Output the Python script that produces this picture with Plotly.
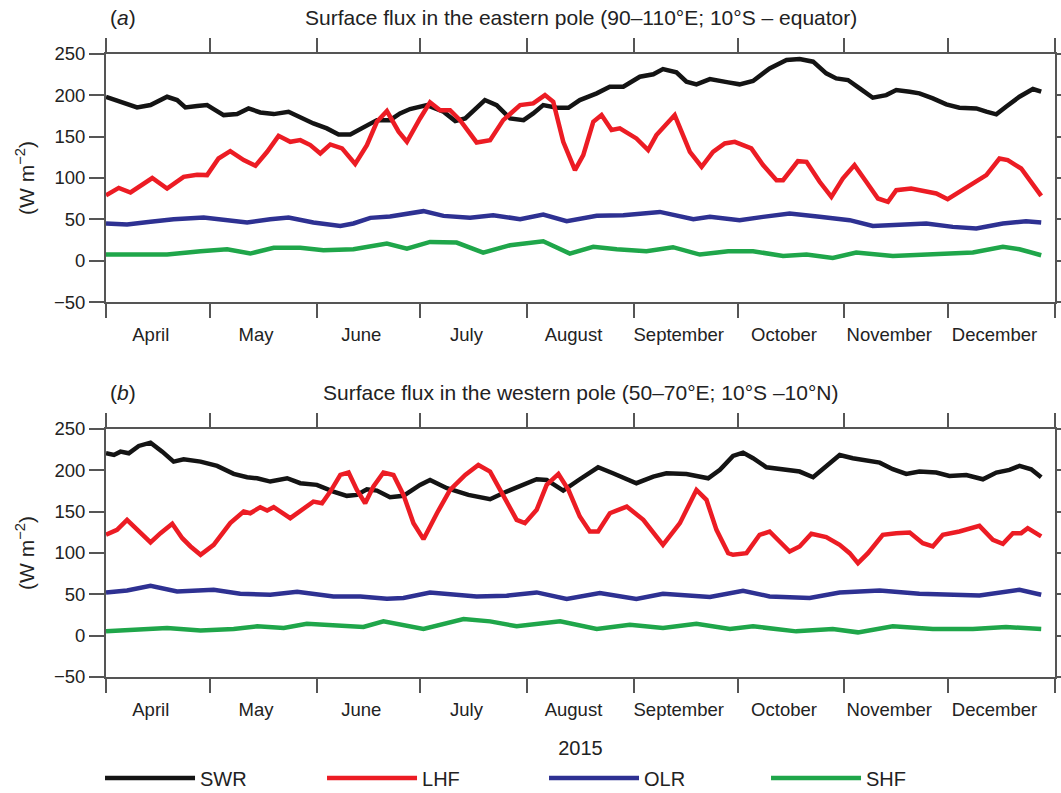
import pandas as pd
import plotly.graph_objects as go

START = "2015-04-01"
END = "2016-01-01"
Y_TICKS = [-50, 0, 50, 100, 150, 200, 250]
SERIES = ["SWR", "LHF", "OLR", "SHF"]

# ---------------- Panel (a): eastern pole (days since 1 April 2015) ----------------
swr_a_day = [0, 4.2, 9, 12.9, 17.7, 20.6, 23, 26.4, 29.3, 31.2,
             34.1, 38, 41.3, 44.7, 48.6, 52.9, 56.3, 60.1, 64, 67.4,
             70.8, 74.6, 78.5, 82.3, 85.2, 88.1, 93, 97.8, 101.2, 104.1,
             109.8, 113.2, 117.1, 121, 123.8, 126.7, 130.6, 134, 137.3, 142.2,
             146, 149.9, 154.7, 158.6, 161.4, 165.3, 168.2, 171.1, 175, 180.3,
             183.6, 187.5, 192.3, 197.2, 201, 204.9, 208.7, 211.6, 215, 218.4,
             222.2, 226.1, 229, 232.9, 235.7, 239.6, 243.5, 247.3, 252.2, 255.1,
             258, 260.8, 264.7, 268.6, 271]
swr_a_val = [198, 191.5, 185.4, 188.2, 198.3, 194.3, 185.4, 187, 188.2, 183.4,
             176.1, 177.3, 184.2, 179.3, 177.3, 180.2, 172.9, 166, 160, 152.7,
             152.7, 162, 170, 170, 178.1, 183.4, 188.2, 180.2, 168.9, 172.1,
             194.3, 188.2, 172.1, 170, 178.1, 188.2, 185, 185, 194.3, 202.4,
             210.4, 210.4, 222.5, 225.4, 231.8, 227.8, 216.5, 213.3, 219.7, 215.7,
             213.3, 217.3, 232.6, 242.7, 244, 240.7, 226.6, 220.5, 218.5, 208.4,
             197.1, 200.3, 206.4, 204.4, 202.4, 196.3, 189.1, 185, 184.2, 180.2,
             177, 186.2, 198.3, 207.6, 204.4]

lhf_a_day = [0, 3.7, 7.1, 13.4, 17.7, 22.5, 26.4, 29.3, 32.6, 36,
             39.9, 43.3, 46.7, 50, 53.4, 56.3, 59.2, 62.1, 65, 68.4,
             72.2, 75.6, 78.5, 81.4, 84.8, 87.2, 91, 93.9, 96.8, 99.7,
             102.6, 107.4, 111.3, 115.1, 120, 123.8, 127.2, 129.6, 132.5, 135.9,
             138.3, 141.2, 143.6, 146.5, 148.9, 153.7, 157.1, 159.5, 164.8, 169.2,
             172.6, 175.9, 179.3, 182.2, 187, 190.4, 194.3, 196.2, 200.5, 203,
             206.8, 210.2, 213.5, 216.9, 220.3, 223.7, 226.6, 229, 233.3, 237.7,
             240.6, 243.9, 247.3, 251.2, 255.1, 258.9, 261.3, 265.2, 268.1, 271]
lhf_a_val = [79, 88, 82.5, 100, 87.3, 101.4, 104, 103.5, 123.6, 132.5,
             121.6, 114.8, 131.7, 151, 143.8, 145.8, 139.8, 129.7, 140.6, 135.8,
             117, 139.8, 168, 181, 156, 143.8, 172, 191.5, 182, 182,
             170, 143, 145.8, 170, 188.2, 190.3, 200.3, 192.3, 143.8, 109.5,
             127.7, 168, 176.1, 158, 160, 147.9, 133.7, 151.9, 176.1, 131.7,
             113.6, 131.7, 141.8, 143.8, 135.8, 115.6, 97.4, 97.4, 120.4, 119.6,
             95.4, 77.2, 99.4, 115.6, 95.4, 75.2, 71.2, 85.3, 87.3, 83.3,
             81.3, 74.4, 83.3, 93.4, 103.5, 123.6, 121.6, 111.5, 95.4, 78.4]

olr_a_day = [0, 6.1, 12.9, 19.6, 28.3, 34.1, 40.9, 47.6, 52.9, 60.1,
             67.9, 71.7, 76.6, 82.3, 89.1, 92, 97.8, 105.5, 112.2, 120,
             126.7, 133.5, 142.2, 149.9, 160.5, 170.2, 175, 183.6, 190.4, 198.1,
             206.8, 215.5, 222.2, 231.9, 237.7, 245.4, 252.2, 259.9, 266.6, 271]
olr_a_val = [44.9, 43.7, 47, 50.2, 52.2, 49, 46.1, 50.2, 52.2, 46.1,
             42.1, 45, 51.8, 53.4, 58.2, 59.9, 54.2, 51.8, 55, 50.2,
             55.8, 47.7, 54.2, 55, 59, 50.2, 53, 49, 53, 57,
             53, 49, 42.1, 43.7, 45, 40.9, 38.9, 45, 47.7, 46.1]

shf_a_day = [0, 8, 17.7, 27.4, 35.1, 41.8, 48.6, 56.3, 63, 71.7,
             81.4, 87.2, 93.9, 101.6, 109.3, 117.1, 126.7, 134.4, 141.2, 148,
             156.6, 164.3, 172.1, 180.3, 187.5, 196.2, 203, 210.6, 217.4, 228,
             240.6, 251.2, 259.9, 264.7, 271]
shf_a_val = [7.4, 7.8, 7.4, 11.4, 13.8, 8.6, 15.5, 15.5, 12.6, 13.8,
             20.7, 14.6, 22.7, 21.9, 9.8, 18.7, 23.5, 8.6, 16.7, 13.8,
             11.4, 16.3, 7.4, 11.4, 11.4, 5.8, 7.4, 3.3, 9.8, 5.8,
             7.4, 9.8, 16.7, 13.8, 6.6]

# ---------------- Panel (b): western pole ----------------
swr_b_day = [0, 2.3, 4.2, 6.6, 9.5, 12.9, 16.3, 19.6, 22.5, 27.4,
             32.2, 37, 40.9, 43.8, 47.6, 52.5, 56.3, 61.1, 65.9, 69.8,
             72.7, 75.6, 78.5, 82.3, 86.2, 91, 93.9, 98.8, 105, 111.3,
             116.1, 121, 124.8, 127.7, 132.5, 137.3, 142.6, 146.9, 153.7, 158.6,
             162.4, 168.2, 174.5, 177.9, 181.7, 184.6, 187.5, 191.4, 197.2, 201,
             204.9, 208.7, 212.6, 216.4, 220.3, 224.2, 228, 231.9, 235.7, 240.6,
             244.4, 249.3, 254.1, 258, 261.8, 264.7, 268.1, 271]
swr_b_val = [220.6, 218.6, 222.6, 220.6, 229.5, 233.5, 222.6, 210.5, 213.4, 210.5,
             205.3, 195.7, 191.6, 190.4, 186.4, 190.4, 184.4, 182.4, 174.3, 169.1,
             170.3, 177.1, 175.5, 167.5, 169.1, 182.4, 188.4, 178.3, 170.3, 165.1,
             174.3, 182.4, 189.2, 188.4, 175.5, 189.2, 203.7, 196.5, 184.4, 192.4,
             196.5, 195.6, 190.4, 200.5, 217.4, 221.4, 214.6, 203.7, 201.3, 198.5,
             191.6, 204.5, 218.6, 214.6, 212.6, 209.3, 201.3, 195.6, 198.5, 197.3,
             193.2, 194.4, 189.2, 197.3, 200.5, 205.3, 201.3, 191.6]

lhf_b_day = [0, 3.2, 6.1, 10, 12.9, 15.8, 19.2, 22.1, 24.5, 27.4,
             31.2, 36, 39.9, 41.8, 44.7, 46.7, 48.6, 53.4, 56.8, 60.1,
             62.6, 65, 67.9, 70.3, 72.7, 75.1, 77.5, 80.4, 83.3, 86.2,
             89.1, 92, 95.9, 99.7, 104.1, 107.9, 111.3, 115.1, 119, 121.4,
             124.8, 127.7, 131.1, 134, 137.3, 140.2, 142.6, 146, 150.9, 155.7,
             161.4, 166.3, 171.1, 174, 176.9, 180.3, 181.7, 185.6, 189.4, 192.3,
             195.2, 198.1, 201, 204.4, 208.7, 212.6, 215.5, 217.9, 220.8, 225.1,
             229, 232.9, 236.7, 239.6, 242.5, 247.3, 253.1, 257, 259.9, 262.8,
             265.2, 267.1, 271]
lhf_b_val = [122, 128, 140.1, 124, 112.7, 124, 135.3, 117.9, 107.9, 97.8,
             109.9, 136.1, 150.1, 148.1, 155.4, 151.4, 155.4, 142.1, 153, 162.2,
             160.2, 174.3, 194.4, 197.3, 176.3, 160.2, 180.4, 197.3, 194.4, 170.3,
             136.1, 116.7, 148.1, 176.3, 194.4, 206.5, 198.5, 168.3, 140.1, 136.1,
             152.2, 182.4, 195.6, 176.3, 144.1, 126, 126, 148.1, 156.2, 140.1,
             109.9, 136.1, 176.3, 164.3, 128, 99.8, 97.8, 99.8, 122, 126,
             113.9, 101.8, 107.9, 123.2, 119.2, 109.9, 99.8, 87.7, 99.8, 122,
             124, 124.8, 111.9, 107.9, 122, 126, 132.8, 115.9, 111.1, 124,
             124, 130, 120]

olr_b_day = [0, 6.1, 12.9, 20.6, 31.2, 38.9, 47.6, 55.4, 65.9, 73.7,
             81.4, 86.2, 93.9, 107.4, 116.1, 124.8, 133.5, 143.1, 153.7, 161.4,
             175, 184.6, 192.3, 203.9, 212.6, 224.2, 235.7, 253.1, 264.7, 271]
olr_b_val = [52.3, 54.7, 60.4, 53.5, 55.5, 50.7, 49.5, 53.1, 47.5, 47.5,
             44.7, 45.5, 52.3, 47.5, 48.3, 52.3, 44.3, 51.5, 44.3, 50.7,
             46.7, 54.3, 47.5, 45.5, 52.3, 54.7, 50.7, 48.7, 55.5, 49.5]

shf_b_day = [0, 8, 17.7, 27.4, 37, 43.8, 51.5, 58.2, 65.9, 74.6,
             80.4, 88.1, 92, 103.6, 111.3, 119, 131.6, 142.2, 151.8, 161.4,
             171.1, 180.8, 187.5, 200, 210.6, 217.9, 228, 239.6, 251.2, 260.8,
             271]
shf_b_val = [5.2, 7.2, 9.3, 6.4, 8, 11.3, 9.3, 14.5, 12.9, 10.5,
             17.3, 11.3, 8, 20.1, 17.3, 11.3, 17.3, 8, 13.3, 9.3,
             14.5, 8, 11.3, 5.2, 8, 4, 11.3, 8, 8, 10.5,
             8]

TITLE_A = "Surface flux in the eastern pole (90–110°E; 10°S – equator)"
TITLE_B = "Surface flux in the western pole (50–70°E; 10°S –10°N)"
Y_TITLE = "(W m<sup>−2</sup>)"
X_TITLE = "2015"

COLORS = {"SWR": "#141414", "LHF": "#ec1c24", "OLR": "#2e3192", "SHF": "#1fa64a"}
AX = "#555555"
TXT = "#222222"
FONT = "Liberation Sans, Arial, sans-serif"

base = pd.Timestamp(START)


def to_dates(days):
    return [base + pd.Timedelta(days=float(d)) for d in days]


panels = [
    ("x", "y", {"SWR": (swr_a_day, swr_a_val), "LHF": (lhf_a_day, lhf_a_val),
                "OLR": (olr_a_day, olr_a_val), "SHF": (shf_a_day, shf_a_val)}, True),
    ("x2", "y2", {"SWR": (swr_b_day, swr_b_val), "LHF": (lhf_b_day, lhf_b_val),
                  "OLR": (olr_b_day, olr_b_val), "SHF": (shf_b_day, shf_b_val)}, False),
]

fig = go.Figure()
for xa, ya, series, show in panels:
    for name in SERIES:
        d, v = series[name]
        fig.add_trace(go.Scatter(
            x=to_dates(d), y=v, mode="lines", name=name,
            line=dict(color=COLORS[name], width=4.5),
            xaxis=xa, yaxis=ya, showlegend=show, legendgroup=name,
        ))

xcommon = dict(
    type="date", range=[START, END], tickmode="linear", tick0=START, dtick="M1",
    tickformat="%B", ticklabelmode="period", ticklabelshift=-7, ticklabelstandoff=1,
    ticks="outside", ticklen=14, tickwidth=2, tickcolor=AX,
    showline=True, linecolor=AX, linewidth=2, mirror="ticks",
    showgrid=False, zeroline=False,
    tickfont=dict(family=FONT, size=18.5, color=TXT),
)
ycommon = dict(
    range=[-50, 250], tickmode="array", tickvals=Y_TICKS,
    ticks="outside", ticklen=15, tickwidth=2, tickcolor=AX,
    showline=True, linecolor=AX, linewidth=2, mirror="ticks",
    showgrid=False, zeroline=False,
    tickfont=dict(family=FONT, size=18.5, color=TXT),
    title=dict(text=Y_TITLE, font=dict(family=FONT, size=21, color=TXT), standoff=14),
)

fig.update_layout(
    width=1061, height=793, autosize=False,
    margin=dict(l=106, r=6, t=54, b=116, autoexpand=False),
    paper_bgcolor="white", plot_bgcolor="white",
    font=dict(family=FONT, color=TXT),
    xaxis=dict(xcommon, domain=[0, 1], anchor="y"),
    yaxis=dict(ycommon, domain=[0.6019, 1], anchor="x"),
    xaxis2=dict(xcommon, domain=[0, 1], anchor="y2",
                title=dict(text=X_TITLE, font=dict(family=FONT, size=20, color=TXT), standoff=22)),
    yaxis2=dict(ycommon, domain=[0, 0.3981], anchor="x2"),
    legend=dict(orientation="h", x=-0.0063, xanchor="left", y=-0.162, yanchor="middle",
                font=dict(family=FONT, size=20, color=TXT),
                entrywidth=117, entrywidthmode="pixels", itemwidth=90,
                bgcolor="rgba(0,0,0,0)"),
    annotations=[
        dict(text="(<i>a</i>)", x=0.002, y=1.0578, xref="paper", yref="paper",
             xanchor="left", yanchor="middle", showarrow=False,
             font=dict(family=FONT, size=21, color=TXT)),
        dict(text=TITLE_A, x=0.5, y=1.0578, xref="paper", yref="paper",
             xanchor="center", yanchor="middle", showarrow=False,
             font=dict(family=FONT, size=21, color=TXT)),
        dict(text="(<i>b</i>)", x=0.002, y=0.4559, xref="paper", yref="paper",
             xanchor="left", yanchor="middle", showarrow=False,
             font=dict(family=FONT, size=21, color=TXT)),
        dict(text=TITLE_B, x=0.5, y=0.4559, xref="paper", yref="paper",
             xanchor="center", yanchor="middle", showarrow=False,
             font=dict(family=FONT, size=21, color=TXT)),
    ],
)

fig.write_html("out.html")
